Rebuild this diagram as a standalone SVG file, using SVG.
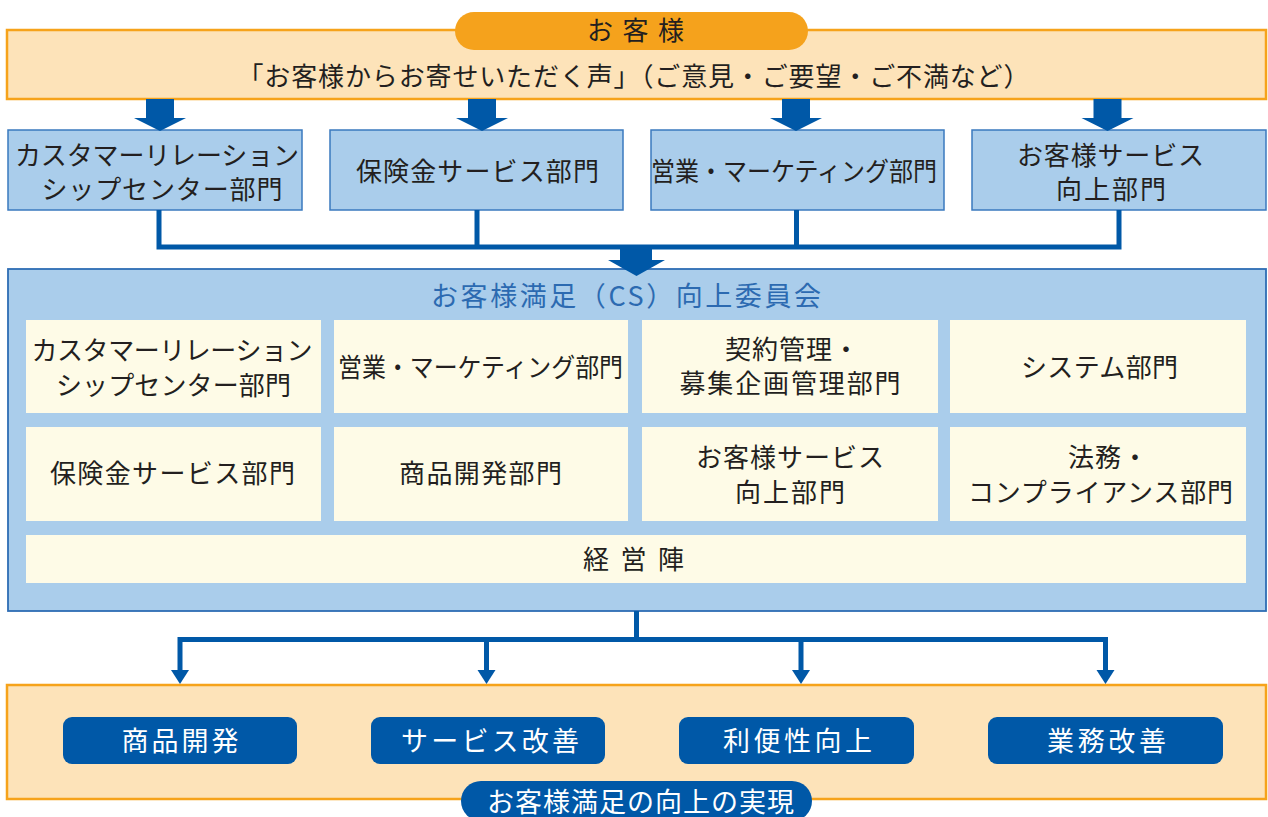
<svg xmlns="http://www.w3.org/2000/svg" width="1268" height="817" viewBox="0 0 1268 817">
<style>
text{font-family:"Noto Sans CJK JP","Noto Sans",sans-serif;font-size:26px;fill:#231F20;text-anchor:middle}
.obox{fill:#FDE3B9;stroke:#F6A31B;stroke-width:2.5}
.bbox{fill:#AACDEB;stroke:#3A79BF;stroke-width:1.5}
.big{fill:#AACDEB;stroke:#2E6DB4;stroke-width:1.8}
.cell{fill:#FEFBE7}
.btn{fill:#0058A7}
.wt{fill:#FFFFFF;font-size:27px}
.ttl{fill:#2C6AB1;font-size:27px}
.ln{fill:none;stroke:#0058A7;stroke-width:5}
.ah{fill:#0058A7}
</style>
<g id="customer">
<rect class="obox" x="7" y="30" width="1259" height="69"/>
<rect x="455" y="12" width="353" height="38" rx="19" fill="#F5A21C"/>
<text x="635.5" y="40" font-size="25" textLength="97" lengthAdjust="spacing">お 客 様</text>
<text x="633.5" y="86" textLength="792" lengthAdjust="spacing">「お客様からお寄せいただく声」（ご意見・ご要望・ご不満など）</text>
</g>
<g id="dept1"><rect class="bbox" x="8" y="130" width="294" height="80"/>
<text x="157" y="164.5" textLength="284" lengthAdjust="spacing">カスタマーリレーション</text>
<text x="162" y="198.5" textLength="241" lengthAdjust="spacing">シップセンター部門</text></g>
<g id="dept2"><rect class="bbox" x="330" y="130" width="293" height="80"/>
<text x="477.5" y="181" textLength="243" lengthAdjust="spacing">保険金サービス部門</text></g>
<g id="dept3"><rect class="bbox" x="651" y="130" width="293" height="80"/>
<text x="794" y="181" textLength="286" lengthAdjust="spacingAndGlyphs">営業・マーケティング部門</text></g>
<g id="dept4"><rect class="bbox" x="972" y="130" width="294" height="80"/>
<text x="1110.5" y="164.5" textLength="187" lengthAdjust="spacing">お客様サービス</text>
<text x="1111" y="198.5" textLength="110" lengthAdjust="spacing">向上部門</text></g>
<g id="committee">
<rect class="big" x="8" y="269" width="1258" height="342"/>
<text class="ttl" x="626" y="305.5" textLength="390" lengthAdjust="spacing">お客様満足（CS）向上委員会</text>
<g id="c-crm"><rect class="cell" x="26" y="320" width="295" height="93"/>
<text x="172" y="359.5" textLength="281" lengthAdjust="spacing">カスタマーリレーション</text>
<text x="173.5" y="394.5" textLength="235" lengthAdjust="spacing">シップセンター部門</text></g>
<g id="c-sales"><rect class="cell" x="334" y="320" width="294" height="93"/>
<text x="480.5" y="377" textLength="285" lengthAdjust="spacingAndGlyphs">営業・マーケティング部門</text></g>
<g id="c-contract"><rect class="cell" x="642" y="320" width="296" height="93"/>
<text x="725" y="358.5" style="text-anchor:start" textLength="134" lengthAdjust="spacing">契約管理・</text>
<text x="790" y="392.5" textLength="221" lengthAdjust="spacing">募集企画管理部門</text></g>
<g id="c-system"><rect class="cell" x="950" y="320" width="296" height="93"/>
<text x="1099.5" y="376.5" textLength="157" lengthAdjust="spacing">システム部門</text></g>
<g id="c-claims"><rect class="cell" x="26" y="427" width="295" height="94"/>
<text x="172.5" y="482.5" textLength="245" lengthAdjust="spacing">保険金サービス部門</text></g>
<g id="c-product"><rect class="cell" x="334" y="427" width="294" height="94"/>
<text x="480.5" y="482.5" textLength="163" lengthAdjust="spacing">商品開発部門</text></g>
<g id="c-cs"><rect class="cell" x="642" y="427" width="296" height="94"/>
<text x="790" y="466.5" textLength="188" lengthAdjust="spacing">お客様サービス</text>
<text x="790" y="501.5" textLength="110" lengthAdjust="spacing">向上部門</text></g>
<g id="c-legal"><rect class="cell" x="950" y="427" width="296" height="94"/>
<text x="1068" y="466.5" style="text-anchor:start" textLength="80" lengthAdjust="spacing">法務・</text>
<text x="1100.5" y="501.5" textLength="265" lengthAdjust="spacing">コンプライアンス部門</text></g>
<g id="c-mgmt"><rect class="cell" x="26" y="535" width="1220" height="48"/>
<text x="633.5" y="568.5" textLength="101" lengthAdjust="spacing">経 営 陣</text></g>
</g>
<g id="result">
<rect class="obox" x="7" y="685" width="1259" height="114"/>
<g id="r1"><rect class="btn" x="63" y="717" width="234" height="47" rx="9"/>
<text class="wt" x="180" y="750.5" textLength="117" lengthAdjust="spacing">商品開発</text></g>
<g id="r2"><rect class="btn" x="371" y="717" width="234" height="47" rx="9"/>
<text class="wt" x="490" y="750.5" textLength="178" lengthAdjust="spacing">サービス改善</text></g>
<g id="r3"><rect class="btn" x="679" y="717" width="235" height="47" rx="9"/>
<text class="wt" x="797.5" y="750.5" textLength="149" lengthAdjust="spacing">利便性向上</text></g>
<g id="r4"><rect class="btn" x="988" y="717" width="235" height="47" rx="9"/>
<text class="wt" x="1106.5" y="750.5" textLength="119" lengthAdjust="spacing">業務改善</text></g>
<rect class="btn" x="461" y="781" width="351" height="40" rx="20"/>
<text class="wt" x="640.5" y="811.5" textLength="307" lengthAdjust="spacing">お客様満足の向上の実現</text>
</g>
<g id="connectors">
<path class="ah" d="M146,99H174V118H186L160,131L134,118H146Z"/>
<path class="ah" d="M468,99H496V118H508L482,131L456,118H468Z"/>
<path class="ah" d="M782,99H810V118H822L796,131L770,118H782Z"/>
<path class="ah" d="M1093.5,99H1121.5V118H1133.5L1107.5,131L1081.5,118H1093.5Z"/>
<path class="ln" d="M159,210V247H1119V210M477,210V247M796.5,210V247"/>
<path class="ah" d="M620,245H652V260H665L636.5,276L608,260H620Z"/>
<path class="ln" d="M636.5,611V639.5M180,671V639.5H1105.5V671M486.5,639.5V671M801,639.5V671"/>
<path class="ah" d="M171,670H189L180,684Z"/>
<path class="ah" d="M477.5,670H495.5L486.5,684Z"/>
<path class="ah" d="M792,670H810L801,684Z"/>
<path class="ah" d="M1096.5,670H1114.5L1105.5,684Z"/>
</g>
</svg>
